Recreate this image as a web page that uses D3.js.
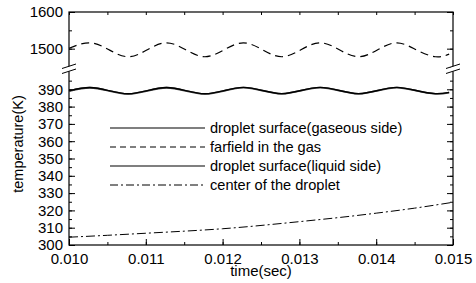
<!DOCTYPE html>
<html>
<head>
<meta charset="utf-8">
<script src="https://cdn.jsdelivr.net/npm/d3@7"></script>
<style>
  body { margin: 0; background: #fff; }
  text { font-family: "Liberation Sans", Arial, sans-serif; fill: #000; }
</style>
</head>
<body>
<div id="plot"></div>
<script>
// chart values

const waveTime = [0.0100, 0.01027, 0.01052, 0.01077, 0.01102, 0.01127, 0.01152, 0.01177,
  0.01202, 0.01227, 0.01252, 0.01277, 0.01302, 0.01327, 0.01352, 0.01377,
  0.01402, 0.01427, 0.01452, 0.01477, 0.01495];

const gasSurface = [389.1, 391.0, 389.2, 387.4, 389.2, 391.0, 389.2, 387.4,
  389.2, 391.1, 389.3, 387.5, 389.3, 391.1, 389.3, 387.5,
  389.3, 391.1, 389.3, 387.5, 388.2];

const liquidSurface = [389.0, 390.9, 389.1, 387.3, 389.1, 390.9, 389.1, 387.3,
  389.1, 391.0, 389.2, 387.4, 389.2, 391.0, 389.2, 387.4,
  389.2, 391.0, 389.2, 387.4, 388.1];

const farfield = [1501, 1516, 1497, 1478, 1497, 1516, 1497, 1478,
  1497, 1516, 1497, 1478, 1497, 1516, 1497, 1478,
  1497, 1516, 1497, 1478, 1485];

const centerTime = [0.0100, 0.0105, 0.0110, 0.0115, 0.0120, 0.0125, 0.0130, 0.0135, 0.0140, 0.0145, 0.0150];
const centerTemp = [304.5, 305.6, 306.8, 308.0, 309.4, 311.3, 313.5, 315.8, 318.4, 321.3, 324.7];

const xTicks = [0.010, 0.011, 0.012, 0.013, 0.014, 0.015];
const upperTicks = [1500, 1600];
const lowerTicks = [300, 310, 320, 330, 340, 350, 360, 370, 380, 390];

const legendLabels = ["droplet surface(gaseous side)", "farfield in the gas",
  "droplet surface(liquid side)", "center of the droplet"];

const w = 476;
const h = 283;
const margin = {top: 12, right: 23, bottom: 38, left: 69};
const plotRight = w - margin.right;
const plotBottom = h - margin.bottom;
const breakY = 69.5;

const svg = d3.select("#plot")
  .append("svg")
    .attr("width", w)
    .attr("height", h);

const xScale = d3.scaleLinear()
    .domain([0.010, 0.015])
    .range([margin.left, plotRight]);

const yUp = d3.scaleLinear()
    .domain([1450, 1600])
    .range([67, margin.top]);

const yLow = d3.scaleLinear()
    .domain([300, 400])
    .range([plotBottom, 72]);

// minor tick positions
const xMinor = d3.range(0, 11).map(i => 0.010 + i * 0.0005);
const lowMinor = d3.range(0, 20).map(i => 300 + i * 5);
const upMinor = [1450, 1500, 1550, 1600];

function axisGroup(axis, tx, ty) {
  const g = svg.append("g")
      .attr("transform", `translate(${tx}, ${ty})`)
      .call(axis);
  g.select(".domain").remove();
  g.selectAll("line").attr("stroke", "#000").attr("stroke-width", 1);
  g.selectAll("text").attr("font-size", 15).style("font-family", "Liberation Sans, Arial, sans-serif");
  return g;
}

// bottom axis
axisGroup(d3.axisBottom(xScale).tickValues(xMinor).tickSize(-3).tickFormat(""), 0, plotBottom);
axisGroup(d3.axisBottom(xScale).tickValues(xTicks).tickSize(-6).tickPadding(8)
    .tickFormat(d3.format(".3f")), 0, plotBottom);

// top axis
axisGroup(d3.axisTop(xScale).tickValues(xMinor).tickSize(-3).tickFormat(""), 0, margin.top);

// left axis
axisGroup(d3.axisLeft(yLow).tickValues(lowMinor).tickSize(-3).tickFormat(""), margin.left, 0);
axisGroup(d3.axisLeft(yLow).tickValues(lowerTicks).tickSize(-6).tickPadding(6)
    .tickFormat(d3.format("d")), margin.left, 0);
axisGroup(d3.axisLeft(yUp).tickValues(upMinor).tickSize(-3).tickFormat(""), margin.left, 0);
axisGroup(d3.axisLeft(yUp).tickValues(upperTicks).tickSize(-6).tickPadding(6)
    .tickFormat(d3.format("d")), margin.left, 0);

// right axis
axisGroup(d3.axisRight(yLow).tickValues(lowMinor).tickSize(-3).tickFormat(""), plotRight, 0);
axisGroup(d3.axisRight(yLow).tickValues(lowerTicks).tickSize(-6).tickFormat(""), plotRight, 0);
axisGroup(d3.axisRight(yUp).tickValues(upMinor).tickSize(-3).tickFormat(""), plotRight, 0);
axisGroup(d3.axisRight(yUp).tickValues(upperTicks).tickSize(-6).tickFormat(""), plotRight, 0);

// frame
svg.append("rect")
    .attr("x", margin.left)
    .attr("y", margin.top)
    .attr("width", plotRight - margin.left)
    .attr("height", plotBottom - margin.top)
    .attr("fill", "none")
    .attr("stroke", "#000")
    .attr("stroke-width", 1.2);

// axis break marks
[margin.left, plotRight].forEach(ax => {
  svg.append("path")
      .attr("d", `M${ax - 6},${breakY - 1} L${ax + 6},${breakY - 5} L${ax + 6},${breakY + 0} L${ax - 6},${breakY + 4} Z`)
      .attr("fill", "#fff");
  [-3, 2].forEach(off => {
    svg.append("line")
        .attr("x1", ax - 7).attr("y1", breakY + off + 2)
        .attr("x2", ax + 7).attr("y2", breakY + off - 2.5)
        .attr("stroke", "#000")
        .attr("stroke-width", 1);
  });
});

// lines
const lowLine = d3.line()
    .x(d => xScale(d[0]))
    .y(d => yLow(d[1]))
    .curve(d3.curveNatural);

const upLine = d3.line()
    .x(d => xScale(d[0]))
    .y(d => yUp(d[1]))
    .curve(d3.curveNatural);

svg.append("path")
    .datum(d3.zip(waveTime, farfield))
    .attr("d", upLine)
    .attr("fill", "none")
    .attr("stroke", "#000")
    .attr("stroke-width", 1.2)
    .attr("stroke-dasharray", "8,5");

svg.append("path")
    .datum(d3.zip(waveTime, liquidSurface))
    .attr("d", lowLine)
    .attr("fill", "none")
    .attr("stroke", "#444")
    .attr("stroke-width", 1.8);

svg.append("path")
    .datum(d3.zip(waveTime, gasSurface))
    .attr("d", lowLine)
    .attr("fill", "none")
    .attr("stroke", "#000")
    .attr("stroke-width", 1.4);

svg.append("path")
    .datum(d3.zip(centerTime, centerTemp))
    .attr("d", lowLine)
    .attr("fill", "none")
    .attr("stroke", "#000")
    .attr("stroke-width", 1)
    .attr("stroke-dasharray", "9,3,2,3");

// legend
const legendStyles = [
  {dash: null, color: "#000", width: 1.2},
  {dash: "6,4", color: "#000", width: 1.2},
  {dash: null, color: "#555", width: 1.6},
  {dash: "8,3,2,3", color: "#000", width: 1}
];

const legend = svg.append("g")
    .attr("transform", "translate(110, 128)");

legendLabels.forEach((lab, i) => {
  legend.append("line")
      .attr("x1", 0).attr("x2", 95)
      .attr("y1", i * 19).attr("y2", i * 19)
      .attr("stroke", legendStyles[i].color)
      .attr("stroke-width", legendStyles[i].width)
      .attr("stroke-dasharray", legendStyles[i].dash);
  legend.append("text")
      .attr("x", 100)
      .attr("y", i * 19)
      .attr("dy", "0.35em")
      .attr("font-size", 14.6)
      .text(lab);
});

// axis titles
svg.append("text")
    .attr("x", (margin.left + plotRight) / 2)
    .attr("y", 276)
    .attr("text-anchor", "middle")
    .attr("font-size", 15)
    .text("time(sec)");

svg.append("text")
    .attr("transform", "translate(23, 144) rotate(-90)")
    .attr("text-anchor", "middle")
    .attr("font-size", 14.5)
    .text("temperature(K)");
</script>
</body>
</html>
